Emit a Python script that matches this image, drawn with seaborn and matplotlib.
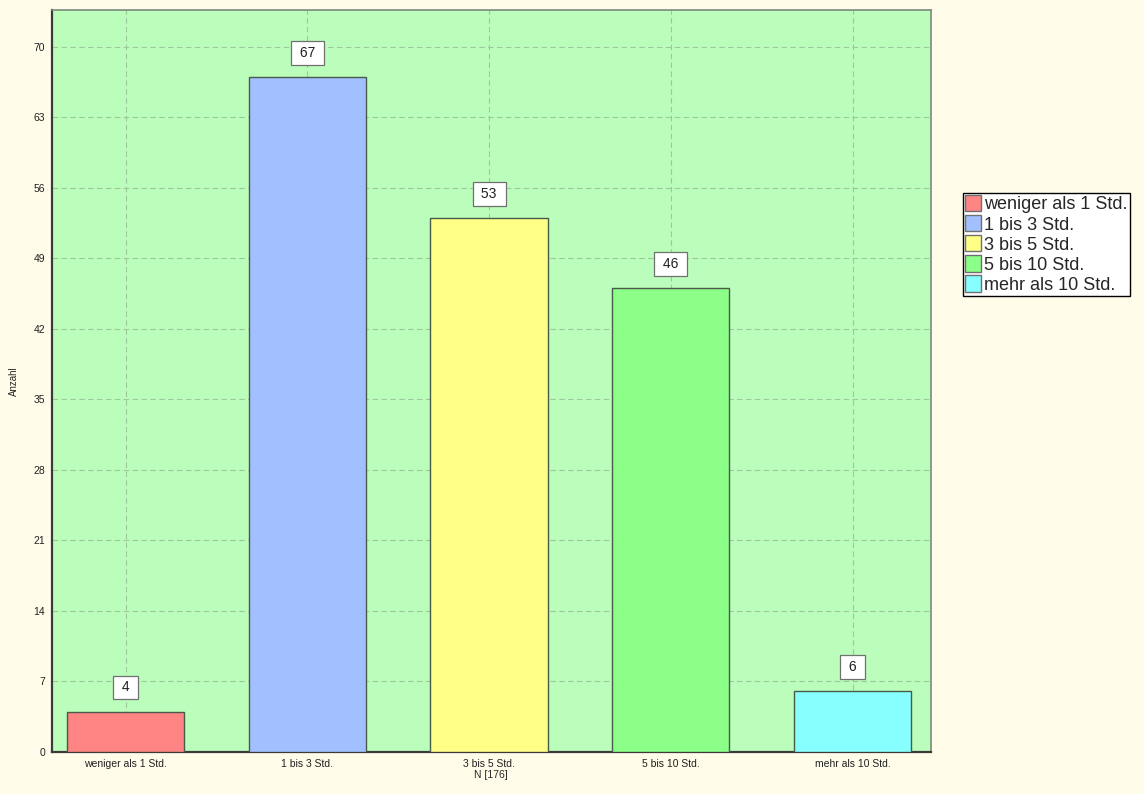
import pandas as pd
import numpy as np
import matplotlib.pyplot as plt
import seaborn as sns

# --- dati ---
kategorien = ["weniger als 1 Std.", "1 bis 3 Std.", "3 bis 5 Std.", "5 bis 10 Std.", "mehr als 10 Std."]
anzahl = [4, 67, 53, 46, 6]
farben = ["#FF8484", "#A2C0FF", "#FFFF88", "#8CFF88", "#88FFFF"]
y_ticks = [0, 7, 14, 21, 28, 35, 42, 49, 56, 63, 70]

df = pd.DataFrame({"Kategorie": kategorien, "Anzahl": anzahl})

sns.set_theme(style="white")
plt.rcParams['font.family'] = ['Liberation Sans', 'DejaVu Sans']

fig = plt.figure(figsize=(11.44, 7.94), dpi=100)
fig.patch.set_facecolor("#FFFCE9")
ax = fig.add_axes([0.0455, 0.053, 0.768, 0.934])
ax.set_facecolor("#BBFDBB")

sns.barplot(data=df, x="Kategorie", y="Anzahl", hue="Kategorie",
            palette=farben, saturation=1, width=0.646, dodge=False, legend=True,
            edgecolor="#4A5A4A", linewidth=1.0, ax=ax, zorder=3)

# griglia tratteggiata
ax.grid(True, axis="both", color="#9CC89C", linestyle=(0, (5, 3)), linewidth=0.8, zorder=0)
ax.set_axisbelow(True)

ax.set_ylim(0, 73.6)
ax.set_xlim(-0.405, 4.43)
ax.set_yticks(y_ticks)
ax.tick_params(axis="both", labelsize=7.5, length=2, colors="#202020", pad=3)

for s in ["left", "bottom"]:
    ax.spines[s].set_color("#3A3A3A")
    ax.spines[s].set_linewidth(1.6)
for s in ["top", "right"]:
    ax.spines[s].set_color("#7A8A7A")
    ax.spines[s].set_linewidth(1.2)

# etichette valori in riquadri bianchi
for i, v in enumerate(anzahl):
    ax.text(i, v + 2.4, f" {v} ", ha="center", va="center", fontsize=10, color="#202020",
            bbox=dict(boxstyle="square,pad=0.35", facecolor="white", edgecolor="#707070", linewidth=0.9),
            zorder=5)

ax.set_xlabel("N [176]", fontsize=7.5, labelpad=1)
ax.set_ylabel("Anzahl", fontsize=7, labelpad=10)

leg = ax.legend(loc="upper left", bbox_to_anchor=(963 / 1144, 1 - 193 / 794),
                bbox_transform=fig.transFigure, fontsize=13, frameon=True, fancybox=False,
                edgecolor="black", framealpha=1, borderpad=0.12, labelspacing=0.1,
                handlelength=0.9, handleheight=1.0, handletextpad=0.15, borderaxespad=0)
leg.get_frame().set_linewidth(1.0)
for h in leg.legend_handles:
    h.set_edgecolor("#707070")

plt.savefig("out.png", dpi=100, facecolor=fig.get_facecolor())
